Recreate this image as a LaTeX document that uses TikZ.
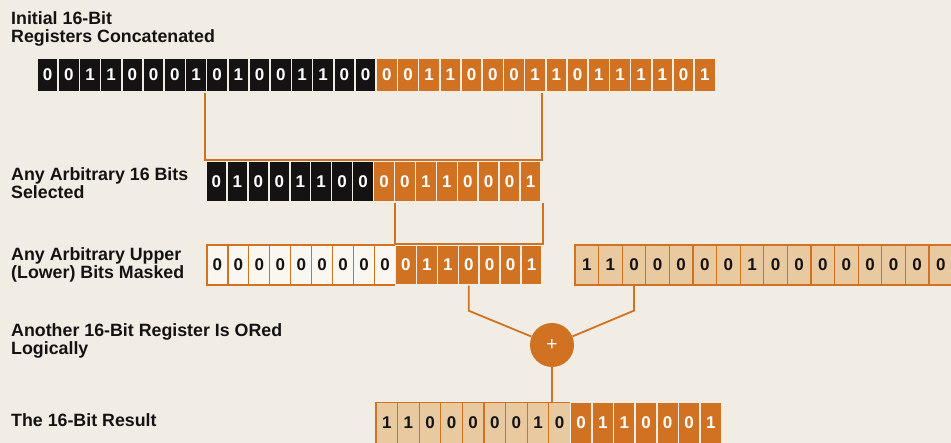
\documentclass[tikz,border=0pt]{standalone}
\usepackage{fontspec}
\setmainfont{Liberation Sans}
\usepackage{xcolor}

\definecolor{paper}{RGB}{242,237,228}
\definecolor{ink}{RGB}{20,18,18}
\definecolor{hporange}{RGB}{209,114,34}
\definecolor{hptan}{RGB}{233,201,160}
\definecolor{cellwhite}{RGB}{250,247,240}

\begin{document}
\begin{tikzpicture}[
    x=1pt, y=-1pt,
    every node/.style={font=\fontsize{17}{17}\selectfont\bfseries},
    blkbit/.style={draw=paper, line width=1.5pt, fill=ink, text=white, inner sep=0pt},
    orgbit/.style={draw=paper, line width=1.5pt, fill=hporange, text=white, inner sep=0pt},
    whtbit/.style={draw=hporange, line width=1.2pt, fill=cellwhite, text=ink, inner sep=0pt},
    tanbit/.style={draw=hporange, line width=1.2pt, fill=hptan, text=ink, inner sep=0pt},
    rowtext/.style={anchor=base west, align=left, inner sep=0pt,
        font=\fontsize{17.8}{18.5}\selectfont\bfseries, text=ink},
    link/.style={hporange, line width=1.8pt}
]

\def\pa{21.2}    % pitch of the concatenated row
\def\pb{20.94}   % pitch of the selected / masked rows
\def\pc{23.6}    % pitch of the other register
\def\pd{21.6}    % pitch of the result

\clip (0,0) rectangle (951,443);
\fill[paper] (0,0) rectangle (951,443);

% row labels (base = last line)
\node[rowtext] (lbl-init) at (11,43)  {Initial 16-Bit\\Registers Concatenated};
\node[rowtext] (lbl-sel)  at (11,199) {Any Arbitrary 16 Bits\\Selected};
\node[rowtext] (lbl-mask) at (11,279) {Any Arbitrary Upper\\(Lower) Bits Masked};
\node[rowtext] (lbl-or)   at (11,355) {Another 16-Bit Register Is ORed\\Logically};
\node[rowtext] (lbl-res)  at (11,427) {The 16-Bit Result};

% initial registers
\foreach \b [count=\i] in {0,0,1,1,0,0,0,1,0,1,0,0,1,1,0,0}
    \node[blkbit, minimum width=\pa pt, minimum height=34pt] (top-\i) at (37+\i*\pa-0.5*\pa, 75) {\b};
\foreach \b [count=\i from 17] in {0,0,1,1,0,0,0,1,1,0,1,1,1,1,0,1}
    \node[orgbit, minimum width=\pa pt, minimum height=34pt] (top-\i) at (37+\i*\pa-0.5*\pa, 75) {\b};

% selected bits
\foreach \b [count=\i] in {0,1,0,0,1,1,0,0}
    \node[blkbit, minimum width=\pb pt, minimum height=41pt] (sel-\i) at (206+\i*\pb-0.5*\pb, 181.5) {\b};
\foreach \b [count=\i from 9] in {0,0,1,1,0,0,0,1}
    \node[orgbit, minimum width=\pb pt, minimum height=41pt] (sel-\i) at (206+\i*\pb-0.5*\pb, 181.5) {\b};

% masked bits
\foreach \b [count=\i] in {0,0,0,0,0,0,0,0,0}
    \node[whtbit, minimum width=\pb pt, minimum height=40pt] (mask-\i) at (207+\i*\pb-0.5*\pb, 265) {\b};
\foreach \b [count=\i from 10] in {0,1,1,0,0,0,1}
    \node[orgbit, minimum width=\pb pt, minimum height=40pt] (mask-\i) at (207+\i*\pb-0.5*\pb, 265) {\b};

% other register
\foreach \b [count=\i] in {1,1,0,0,0,0,0,1,0,0,0,0,0,0,0,0}
    \node[tanbit, minimum width=\pc pt, minimum height=40pt] (oth-\i) at (575+\i*\pc-0.5*\pc, 265) {\b};

% result
\foreach \b [count=\i] in {1,1,0,0,0,0,0,1,0}
    \node[tanbit, minimum width=\pd pt, minimum height=41pt] (res-\i) at (376+\i*\pd-0.5*\pd, 423) {\b};
\foreach \b [count=\i from 10] in {0,1,1,0,0,0,1}
    \node[orgbit, minimum width=\pd pt, minimum height=41pt] (res-\i) at (376+\i*\pd-0.5*\pd, 423) {\b};

% OR gate
\node[circle, fill=hporange, text=white, minimum size=44pt, inner sep=0pt,
    font=\fontsize{19}{19}\selectfont] (or) at (552,345) {+};

% connectors
\draw[link] (sel-1.north west |- top-1.south) -- (sel-1.north west)
    -- (sel-16.north east) -- (sel-16.north east |- top-1.south);
\draw[link] (mask-10.north west |- sel-1.south) -- (mask-10.north west)
    -- (mask-16.north east) -- (mask-16.north east |- sel-1.south);
\draw[link] (mask-13.south) -- ([yshift=-25pt]mask-13.south) -- (or);
\draw[link] (oth-3.south) -- ([yshift=-25pt]oth-3.south) -- (or);
\draw[link] (or) -- (or |- res-1.north);

\end{tikzpicture}
\end{document}
